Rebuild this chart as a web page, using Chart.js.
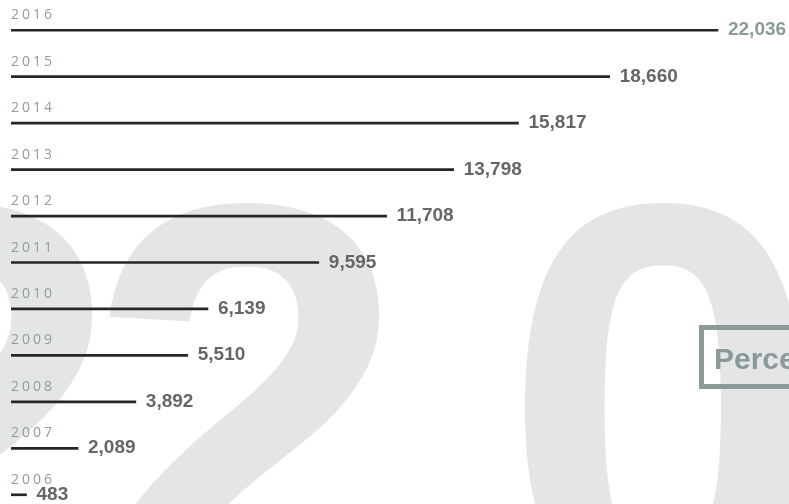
<!DOCTYPE html>
<html>
<head>
<meta charset="utf-8">
<script src="https://cdn.jsdelivr.net/npm/chart.js@4"></script>
<style>
    html, body { margin: 0; padding: 0; background: #ffffff; overflow: hidden; }
    body { width: 789px; height: 504px; position: relative; }
    #wrap { position: absolute; left: 0; top: 0; width: 789px; height: 518px; }
    #tag {
        position: absolute; left: 699px; top: 325px; width: 200px; height: 64px;
        box-sizing: border-box; border: 5px solid #8a9a99;
        font: bold 30px "Liberation Sans", Arial, sans-serif; color: #8a9a99;
        line-height: 53px; padding: 2px 0 0 10px; white-space: nowrap;
    }
</style>
</head>
<body>
<div id="wrap"><canvas id="yearChart"></canvas></div>
<div id="tag">Percentage</div>
<script>
// Data
const years = ['2006', '2007', '2008', '2009', '2010', '2011', '2012', '2013', '2014', '2015', '2016'];
const totals = [483, 2089, 3892, 5510, 6139, 9595, 11708, 13798, 15817, 18660, 22036];
const bigDigits = ['2', '2', '0'];

// Big grey digits behind the bars
const backdrop = {
    id: 'backdrop',
    beforeDraw(chart) {
        const ctx = chart.ctx;
        const xs = [-201, 86, 502];
        ctx.save();
        ctx.fillStyle = '#e4e5e7';
        ctx.font = 'bold 580px "Liberation Sans", Arial, sans-serif';
        ctx.textBaseline = 'alphabetic';
        bigDigits.forEach((d, i) => ctx.fillText(d, xs[i], 608));
        ctx.restore();
    }
};

// Year above each line, value at the line end
const rowLabels = {
    id: 'rowLabels',
    afterDatasetsDraw(chart) {
        const ctx = chart.ctx;
        const meta = chart.getDatasetMeta(0);
        const left = chart.chartArea.left;
        ctx.save();
        meta.data.forEach((bar, i) => {
            const y = bar.y;
            ctx.font = '14px "Open Sans", sans-serif';
            ctx.letterSpacing = '3px';
            ctx.fillStyle = '#919d9b';
            ctx.textAlign = 'left';
            ctx.fillText(years[i], left, y - 11);

            ctx.letterSpacing = '0px';
            ctx.font = 'bold 19px "Liberation Sans", Arial, sans-serif';
            ctx.fillStyle = i === totals.length - 1 ? '#8a9a99' : '#666666';
            ctx.fillText(totals[i].toLocaleString('en-US'), bar.x + 10, y + 5);
        });
        ctx.restore();
    }
};

new Chart(document.getElementById('yearChart'), {
    type: 'bar',
    data: {
        labels: years,
        datasets: [{
            data: totals,
            backgroundColor: '#262626',
            barThickness: 2
        }]
    },
    options: {
        indexAxis: 'y',
        responsive: true,
        maintainAspectRatio: false,
        animation: false,
        layout: { padding: { left: 11, top: 7, right: 0, bottom: 0 } },
        plugins: {
            legend: { display: false },
            tooltip: { enabled: false }
        },
        scales: {
            x: { display: false, min: 0, max: 24250 },
            y: { display: false, reverse: true }
        }
    },
    plugins: [backdrop, rowLabels]
});
</script>
</body>
</html>
